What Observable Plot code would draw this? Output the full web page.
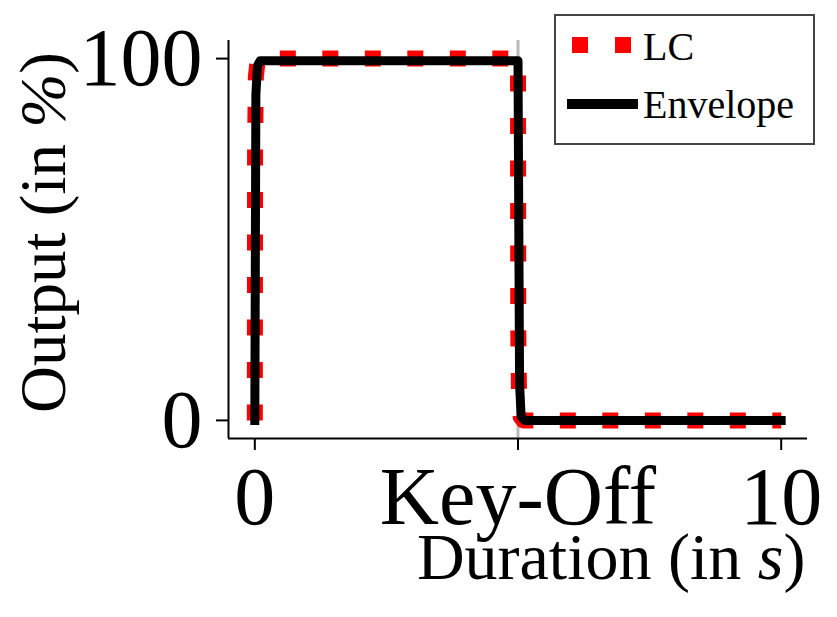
<!DOCTYPE html>
<html><head><meta charset="utf-8">
<script src="https://cdn.jsdelivr.net/npm/d3@7"></script>
<script src="https://cdn.jsdelivr.net/npm/@observablehq/plot@0.6"></script>
<style>
body{margin:0;background:#fff;}
#wrap{position:relative;width:837px;height:617px;font-family:"Liberation Serif","Times New Roman",serif;}
#legend{position:absolute;left:554px;top:14px;width:257px;height:127px;border:2px solid #444;background:#fff;}
</style></head><body><div id="wrap"></div>
<script>
// Data
const lcTime    = [0, 0.005, 0.02, 0.05, 0.1, 5.0, 5.005, 5.02, 5.05, 5.1, 10];
const lcOutput  = [0, 75,    95,   99,   100, 100, 25,    5,    1,    0,   0];
const envTime   = [0, 0.02, 0.05, 0.1,  5.0,  5.03, 5.06, 5.12, 10];
const envOutput = [0, 90,   98,   99.4, 99.4, 10,   1,    0,    0];
const keyOff = 5;
const xTicks = [0, 5, 10];
const xTickLabels = ["0", "Key-Off", "10"];
const yTicks = [0, 100];
const seriesNames = ["LC", "Envelope"];
const xLabel = "Duration (in s)";
const yLabel = "Output (in %)";

const lc = lcTime.map((t, i) => ({t, v: lcOutput[i]}));
const env = envTime.map((t, i) => ({t, v: envOutput[i]}));
const FONT = "'Liberation Serif','Times New Roman',serif";

const chart = Plot.plot({
  width: 837, height: 617,
  marginLeft: 228, marginRight: 30, marginTop: 40, marginBottom: 179,
  style: {fontFamily: FONT, background: "white", color: "black", overflow: "visible"},
  x: {domain: [-0.5, 10.5]},
  y: {domain: [-5, 105]},
  marks: [
    Plot.ruleX([keyOff], {y1: -5, y2: 105, stroke: "#bbb", strokeWidth: 3}),
    Plot.line(lc, {x: "t", y: "v", stroke: "red", strokeWidth: 16, strokeDasharray: "16,26.5", strokeLinecap: "butt", strokeLinejoin: "round"}),
    Plot.line(env, {x: "t", y: "v", stroke: "black", strokeWidth: 9, strokeLinecap: "square", strokeLinejoin: "round"}),
    Plot.ruleY([-5], {stroke: "black", strokeWidth: 2}),
    Plot.ruleX([-0.5], {stroke: "black", strokeWidth: 2}),
    Plot.axisX({ticks: xTicks, tickFormat: d => xTickLabels[xTicks.indexOf(d)], fontSize: 82, tickSize: 12, tickPadding: 15, strokeWidth: 2, label: null}),
    Plot.axisY({ticks: yTicks, tickFormat: d => String(d), fontSize: 82, tickSize: 12, tickPadding: 14, strokeWidth: 2, label: null}),
    Plot.text([yLabel], {frameAnchor: "left", rotate: -90, dx: -164, dy: -7, lineAnchor: "bottom", textAnchor: "middle", fontSize: 65, fill: "black"}),
    Plot.text([xLabel], {frameAnchor: "bottom-right", dx: -2, dy: 140, lineAnchor: "bottom", textAnchor: "end", fontSize: 66, fill: "black"})
  ]
});

// italicise the math symbols in axis labels
chart.querySelectorAll("text").forEach(t => {
  const s = t.textContent;
  let sym = null;
  if (s === yLabel) sym = "%";
  if (s === xLabel) sym = "s";
  if (sym) {
    const idx = s.lastIndexOf(sym);
    t.textContent = "";
    const ns = "http://www.w3.org/2000/svg";
    const a = document.createElementNS(ns, "tspan"); a.textContent = s.slice(0, idx);
    const b = document.createElementNS(ns, "tspan"); b.textContent = sym; b.setAttribute("font-style", "italic");
    const c = document.createElementNS(ns, "tspan"); c.textContent = s.slice(idx + 1);
    t.append(a, b, c);
  }
});

const wrap = document.getElementById("wrap");
wrap.appendChild(chart);

// legend
const legend = document.createElement("div");
legend.id = "legend";
legend.innerHTML = `<svg width="257" height="127" style="display:block;font-family:${FONT.replace(/'/g, '&quot;')}">
  <line x1="16" x2="78" y1="29" y2="29" stroke="red" stroke-width="16" stroke-dasharray="16,27" stroke-linecap="butt"/>
  <text x="87" y="44" font-size="40" fill="black">${seriesNames[0]}</text>
  <line x1="11" x2="82" y1="88" y2="88" stroke="black" stroke-width="10" stroke-linecap="butt"/>
  <text x="87" y="102" font-size="40" fill="black">${seriesNames[1]}</text>
</svg>`;
wrap.appendChild(legend);
</script>
</body></html>
